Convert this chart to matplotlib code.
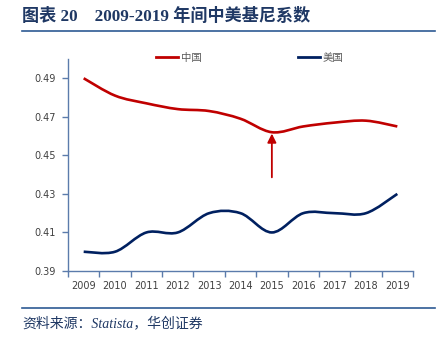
import matplotlib.pyplot as plt
import matplotlib.patches as mpatches
from matplotlib.path import Path
from matplotlib.lines import Line2D
import numpy as np

# 数据：2009-2019 年中美基尼系数
years = ['2009', '2010', '2011', '2012', '2013', '2014', '2015', '2016', '2017', '2018', '2019']
china = [0.490, 0.481, 0.477, 0.474, 0.473, 0.469, 0.462, 0.465, 0.467, 0.468, 0.465]
usa = [0.400, 0.400, 0.410, 0.410, 0.420, 0.420, 0.410, 0.420, 0.420, 0.420, 0.430]
arrow_year = '2015'
arrow_from, arrow_to = 0.4386, 0.4613

RED = '#c00000'
NAVY = '#002060'
AXIS = '#5b7bab'
TEXT = '#404040'

plt.rcParams['font.family'] = ['DejaVu Sans', 'Noto Sans CJK SC']


def smooth_path(x, y):
    # Excel 风格的平滑线 (Catmull-Rom -> Bezier)
    n = len(x)
    verts = [(x[0], y[0])]
    codes = [Path.MOVETO]
    for i in range(n - 1):
        a = max(i - 1, 0)
        b = min(i + 2, n - 1)
        c1 = (x[i] + (x[i + 1] - x[a]) / 6, y[i] + (y[i + 1] - y[a]) / 6)
        c2 = (x[i + 1] - (x[b] - x[i]) / 6, y[i + 1] - (y[b] - y[i]) / 6)
        verts += [c1, c2, (x[i + 1], y[i + 1])]
        codes += [Path.CURVE4] * 3
    return Path(verts, codes)


fig = plt.figure(figsize=(4.43, 3.39), dpi=100)
ax = fig.add_axes([68 / 443, 1 - 271 / 339, 345 / 443, 212 / 339])

xs = np.arange(len(years))
for vals, col in [(china, RED), (usa, NAVY)]:
    ax.add_patch(mpatches.PathPatch(smooth_path(xs, vals), facecolor='none',
                                    edgecolor=col, lw=1.9, capstyle='butt'))

xi = years.index(arrow_year)
ax.annotate('', xy=(xi, arrow_to), xytext=(xi, arrow_from),
            arrowprops=dict(arrowstyle='-|>', color=RED, lw=1.3, mutation_scale=13,
                            shrinkA=0, shrinkB=0))

ax.set_xlim(-0.5, len(years) - 0.5)
ax.set_ylim(0.39, 0.50)
ax.set_yticks(np.arange(0.39, 0.4901, 0.02))
ax.set_yticklabels([f'{v:.2f}' for v in np.arange(0.39, 0.4901, 0.02)])
ax.set_xticks(xs)
ax.set_xticklabels(years)
ax.set_xticks(np.arange(-0.5, len(years)), minor=True)
ax.tick_params(axis='x', which='major', length=0, pad=7, labelsize=7, labelcolor=TEXT)
ax.tick_params(axis='x', which='minor', length=4, color=AXIS, width=1)
ax.tick_params(axis='y', length=4, color=AXIS, width=1, pad=5, labelsize=7, labelcolor=TEXT)
for s in ['top', 'right']:
    ax.spines[s].set_visible(False)
for s in ['left', 'bottom']:
    ax.spines[s].set_color(AXIS)
    ax.spines[s].set_linewidth(1)

handles = [Line2D([], [], color=RED, lw=2), Line2D([], [], color=NAVY, lw=2)]
fig.legend(handles, ['中国', '美国'], ncol=2, frameon=False, loc='center',
           bbox_to_anchor=(250 / 443, 1 - 58 / 339), fontsize=7.5, labelcolor='#595959',
           handlelength=2.1, handletextpad=0.3, columnspacing=9.2)

# 标题和来源
fig.text(22 / 443, 1 - 16 / 339, '图表 20    2009-2019 年间中美基尼系数',
         family=['Liberation Serif', 'Noto Sans CJK SC'], fontweight='bold',
         fontsize=12.3, color='#1f3864', va='center', ha='left')
fig.add_artist(Line2D([22 / 443, 435 / 443], [1 - 30.5 / 339] * 2, color='#2e5a94', lw=1.2))
fig.add_artist(Line2D([22 / 443, 435 / 443], [1 - 308 / 339] * 2, color='#2e5a94', lw=1.2))
fig.text(22 / 443, 1 - 323 / 339, '资料来源：Statista，华创证券',
         family=['Liberation Serif', 'Noto Sans CJK SC'], style='italic',
         fontsize=10, color='#1f3864', va='center', ha='left')

fig.savefig('out.png', dpi=100)
